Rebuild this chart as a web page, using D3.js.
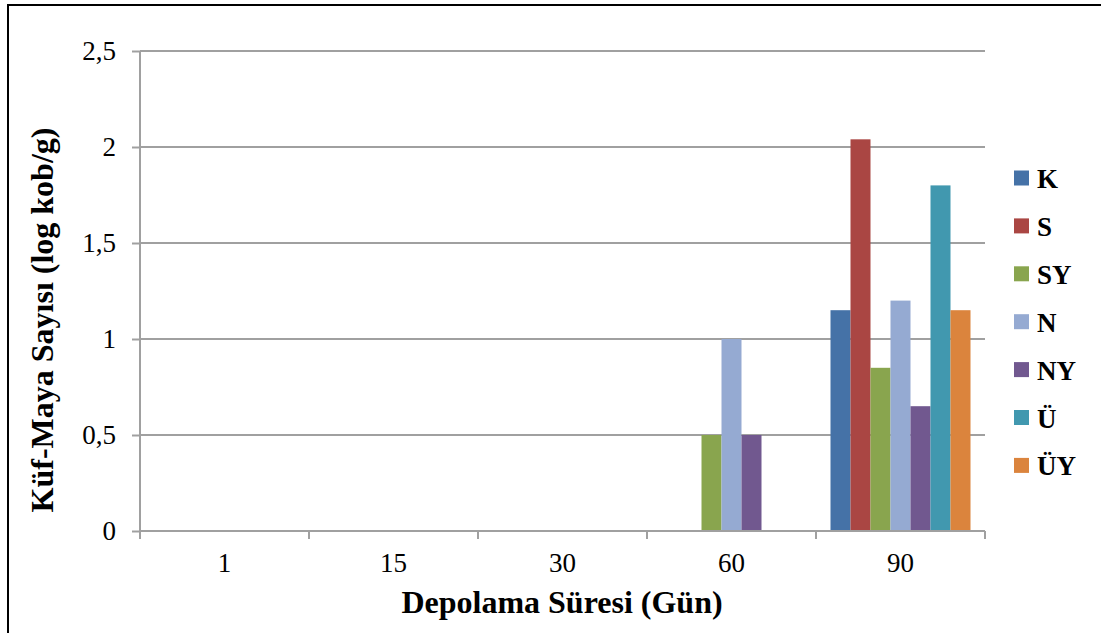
<!DOCTYPE html>
<html>
<head>
<meta charset="utf-8">
<script src="https://cdn.jsdelivr.net/npm/d3@7/dist/d3.min.js"></script>
<style>
  body { margin: 0; background: #fff; }
  svg { display: block; }
</style>
</head>
<body>
<svg width="1101" height="633"></svg>
<script>
"use strict";

// chart data
const days = ["1", "15", "30", "60", "90"];
const seriesNames = ["K", "S", "SY", "N", "NY", "Ü", "ÜY"];
const seriesColors = ["#4572A7", "#AA4643", "#89A54E", "#95AAD2", "#71588F", "#4198AF", "#DB843D"];
const valuesK  = [0, 0, 0, 0,   1.15];
const valuesS  = [0, 0, 0, 0,   2.04];
const valuesSY = [0, 0, 0, 0.5, 0.85];
const valuesN  = [0, 0, 0, 1.0, 1.2];
const valuesNY = [0, 0, 0, 0.5, 0.65];
const valuesU  = [0, 0, 0, 0,   1.8];
const valuesUY = [0, 0, 0, 0,   1.15];
const yTicks = [0, 0.5, 1, 1.5, 2, 2.5];

const allValues = [valuesK, valuesS, valuesSY, valuesN, valuesNY, valuesU, valuesUY];

const svg = d3.select("svg");
const FONT = "Liberation Serif";

// outer frame (left + top)
svg.append("path")
  .attr("d", "M8,633 V5 H1101")
  .attr("fill", "none")
  .attr("stroke", "#000")
  .attr("stroke-width", 2);

const plotL = 140, plotR = 985, plotT = 51, plotB = 531;

const x0 = d3.scaleBand().domain(days).range([plotL, plotR]);
const x1 = d3.scaleBand().domain(seriesNames)
  .range([14.5, x0.bandwidth() - 14.5]);
const y = d3.scaleLinear().domain([0, 2.5]).range([plotB, plotT]);

// gridlines
svg.append("g").selectAll("line")
  .data(yTicks.filter(d => d > 0))
  .join("line")
  .attr("x1", plotL).attr("x2", plotR)
  .attr("y1", d => y(d)).attr("y2", d => y(d))
  .attr("stroke", "#A0A0A0")
  .attr("stroke-width", 2);

// bars
const rows = [];
days.forEach((d, i) => {
  seriesNames.forEach((s, j) => {
    rows.push({ day: d, name: s, value: allValues[j][i], color: seriesColors[j] });
  });
});

svg.append("g").selectAll("rect")
  .data(rows.filter(r => r.value > 0))
  .join("rect")
  .attr("x", r => x0(r.day) + x1(r.name))
  .attr("width", x1.bandwidth())
  .attr("y", r => y(r.value))
  .attr("height", r => y(0) - y(r.value))
  .attr("fill", r => r.color);

// y axis
const yAxis = svg.append("g")
  .attr("transform", `translate(${plotL},0)`)
  .call(d3.axisLeft(y).tickValues(yTicks).tickSize(8).tickPadding(16)
    .tickFormat(d => String(d).replace(".", ",")));
yAxis.attr("font-family", FONT).attr("font-size", 27);
yAxis.select(".domain").attr("stroke", "#A0A0A0").attr("stroke-width", 2)
  .attr("d", `M0,${plotT}V${plotB + 8}`);
yAxis.selectAll(".tick line").attr("stroke", "#A0A0A0").attr("stroke-width", 2);
yAxis.selectAll("text").attr("fill", "#000");

// x axis
const xAxis = svg.append("g")
  .attr("transform", `translate(0,${plotB})`)
  .call(d3.axisBottom(x0).tickSize(0).tickPadding(22));
xAxis.attr("font-family", FONT).attr("font-size", 27);
xAxis.select(".domain").attr("stroke", "#A0A0A0").attr("stroke-width", 2)
  .attr("d", `M${plotL},0H${plotR}`);
xAxis.selectAll("text").attr("fill", "#000");
xAxis.append("g").selectAll("line")
  .data(days.map(d => x0(d)).concat([plotR]))
  .join("line")
  .attr("x1", d => d).attr("x2", d => d)
  .attr("y1", 0).attr("y2", 8)
  .attr("stroke", "#A0A0A0").attr("stroke-width", 2);

// axis titles
svg.append("text")
  .attr("x", 562).attr("y", 613)
  .attr("text-anchor", "middle")
  .attr("font-family", FONT).attr("font-size", 32).attr("font-weight", "bold")
  .text("Depolama Süresi (Gün)");

svg.append("text")
  .attr("transform", "translate(53,320) rotate(-90)")
  .attr("text-anchor", "middle")
  .attr("font-family", FONT).attr("font-size", 32).attr("font-weight", "bold")
  .text("Küf-Maya Sayısı (log kob/g)");

// legend
const legend = svg.append("g").selectAll("g")
  .data(seriesNames)
  .join("g")
  .attr("transform", (d, i) => `translate(1014,${178 + i * 47.9})`);
legend.append("rect")
  .attr("x", 0).attr("y", -7.5).attr("width", 15).attr("height", 15)
  .attr("fill", (d, i) => seriesColors[i]);
legend.append("text")
  .attr("x", 23).attr("y", 10)
  .attr("font-family", FONT).attr("font-size", 27).attr("font-weight", "bold")
  .text(d => d);
</script>
</body>
</html>
